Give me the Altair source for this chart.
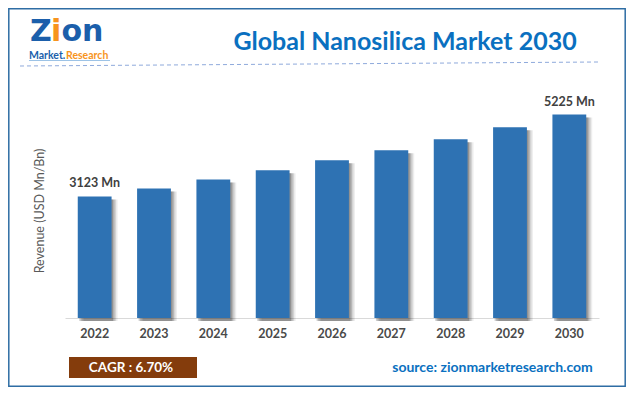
import altair as alt
import pandas as pd

years = ["2022", "2023", "2024", "2025", "2026", "2027", "2028", "2029", "2030"]
revenue = [3123, 3328, 3560, 3793, 4050, 4309, 4592, 4902, 5225]
value_labels = ["3123 Mn", "", "", "", "", "", "", "", "5225 Mn"]

title_text = "Global Nanosilica Market 2030"
y_title = "Revenue (USD Mn/Bn)"
cagr_text = "CAGR : 6.70%"
source_text = "source: zionmarketresearch.com"

df = pd.DataFrame({"year": years, "revenue": revenue, "label": value_labels})
one = pd.DataFrame({"a": [0]})

FONT = "Lato"
BAR = "#2e72b3"

# plot origin is at page (65, 100)
def px(x):
    return x - 65

def py(y):
    return y - 100

xenc = alt.X("year:N", sort=years,
             scale=alt.Scale(paddingInner=0.43, paddingOuter=0.215),
             axis=alt.Axis(title=None, labelAngle=0, ticks=False, domainColor="#d9d9d9",
                           domainWidth=1, labelFont=FONT, labelFontSize=12.5,
                           labelFontWeight="bold", labelColor="#4a4a4a", labelPadding=9))
yenc = alt.Y("revenue:Q", scale=alt.Scale(domain=[0, 5600], nice=False), axis=None)

base = alt.Chart(df)

shadows = [
    base.mark_bar(color="#000000", opacity=op, xOffset=off, yOffset=3, y2Offset=0)
    .encode(x=xenc, y=yenc)
    for off, op in [(6, 0.07), (4.5, 0.11), (3, 0.15), (1.5, 0.19)]
]

bars = base.mark_bar(color=BAR).encode(x=xenc, y=yenc)

labels = base.mark_text(font=FONT, fontSize=12.5, fontWeight="bold", color="#404040",
                        dy=-13, baseline="middle").encode(
    x=alt.X("year:N", sort=years), y="revenue:Q", text="label:N")

ann = alt.Chart(one)

border = ann.mark_rect(fill="transparent", stroke="#2e6da4", strokeWidth=1.5).encode(
    x=alt.value(-56.2), x2=alt.value(560.2), y=alt.value(-91.2), y2=alt.value(286.2))

title = ann.mark_text(text=title_text, font=FONT, fontSize=25, fontWeight="bold",
                      color="#0a70c0", align="center", baseline="alphabetic").encode(
    x=alt.value(px(405)), y=alt.value(py(50)))

dash = ann.mark_rule(color="#8faadc", strokeDash=[4, 3], strokeWidth=1).encode(
    x=alt.value(px(20)), x2=alt.value(px(598)), y=alt.value(py(66)), y2=alt.value(py(62)))

logo_z = ann.mark_text(text="Z", font="DejaVu Sans", fontSize=30, fontWeight="bold",
                       color="#1b5fab", align="left", baseline="alphabetic").encode(
    x=alt.value(px(30)), y=alt.value(py(41)))
logo_i = ann.mark_text(text="i", font="DejaVu Sans", fontSize=30, fontWeight="bold",
                       color="#f7941d", align="left", baseline="alphabetic").encode(
    x=alt.value(px(51)), y=alt.value(py(41)))
logo_on = ann.mark_text(text="on", font="DejaVu Sans", fontSize=30, fontWeight="bold",
                        color="#1b5fab", align="left", baseline="alphabetic").encode(
    x=alt.value(px(61.5)), y=alt.value(py(41)))
logo_m = ann.mark_text(text="Market.", font=FONT, fontSize=10.5, fontWeight="bold",
                       color="#1b5fab", align="left", baseline="alphabetic").encode(
    x=alt.value(px(29)), y=alt.value(py(58.5)))
logo_r = ann.mark_text(text="Research", font=FONT, fontSize=10.5, fontWeight="bold",
                       color="#f7941d", align="left", baseline="alphabetic").encode(
    x=alt.value(px(66)), y=alt.value(py(58.5)))
logo_line = ann.mark_rule(color="#9dc3e6", strokeWidth=1).encode(
    x=alt.value(px(29)), x2=alt.value(px(110)), y=alt.value(py(60.5)))

ytitle = ann.mark_text(text=y_title, font=FONT, fontSize=12.5, color="#595959", angle=270,
                       align="center", baseline="middle").encode(
    x=alt.value(px(40)), y=alt.value(py(211)))

cagr_box = ann.mark_rect(fill="#843c0c").encode(
    x=alt.value(px(69)), x2=alt.value(px(197)), y=alt.value(py(357)), y2=alt.value(py(378)))
cagr = ann.mark_text(text=cagr_text, font=FONT, fontSize=13.5, fontWeight="bold",
                     color="#ffffff", align="center", baseline="middle").encode(
    x=alt.value(px(131)), y=alt.value(py(367.5)))

source = ann.mark_text(text=source_text, font=FONT, fontSize=14, fontWeight="bold",
                       color="#0a70c0", align="center", baseline="middle").encode(
    x=alt.value(px(492.5)), y=alt.value(py(368)))

chart = alt.layer(
    border, *shadows, bars, labels, title, dash, logo_z, logo_i, logo_on, logo_m, logo_r,
    logo_line, ytitle, cagr_box, cagr, source
).properties(
    width=534, height=218,
    autosize=alt.AutoSizeParams(type="none"),
    padding={"left": 57, "top": 92, "right": 27, "bottom": 69},
    background="#ffffff",
).configure_view(stroke=None)

chart.save("out.html", embed_options={"renderer": "svg", "actions": False})
